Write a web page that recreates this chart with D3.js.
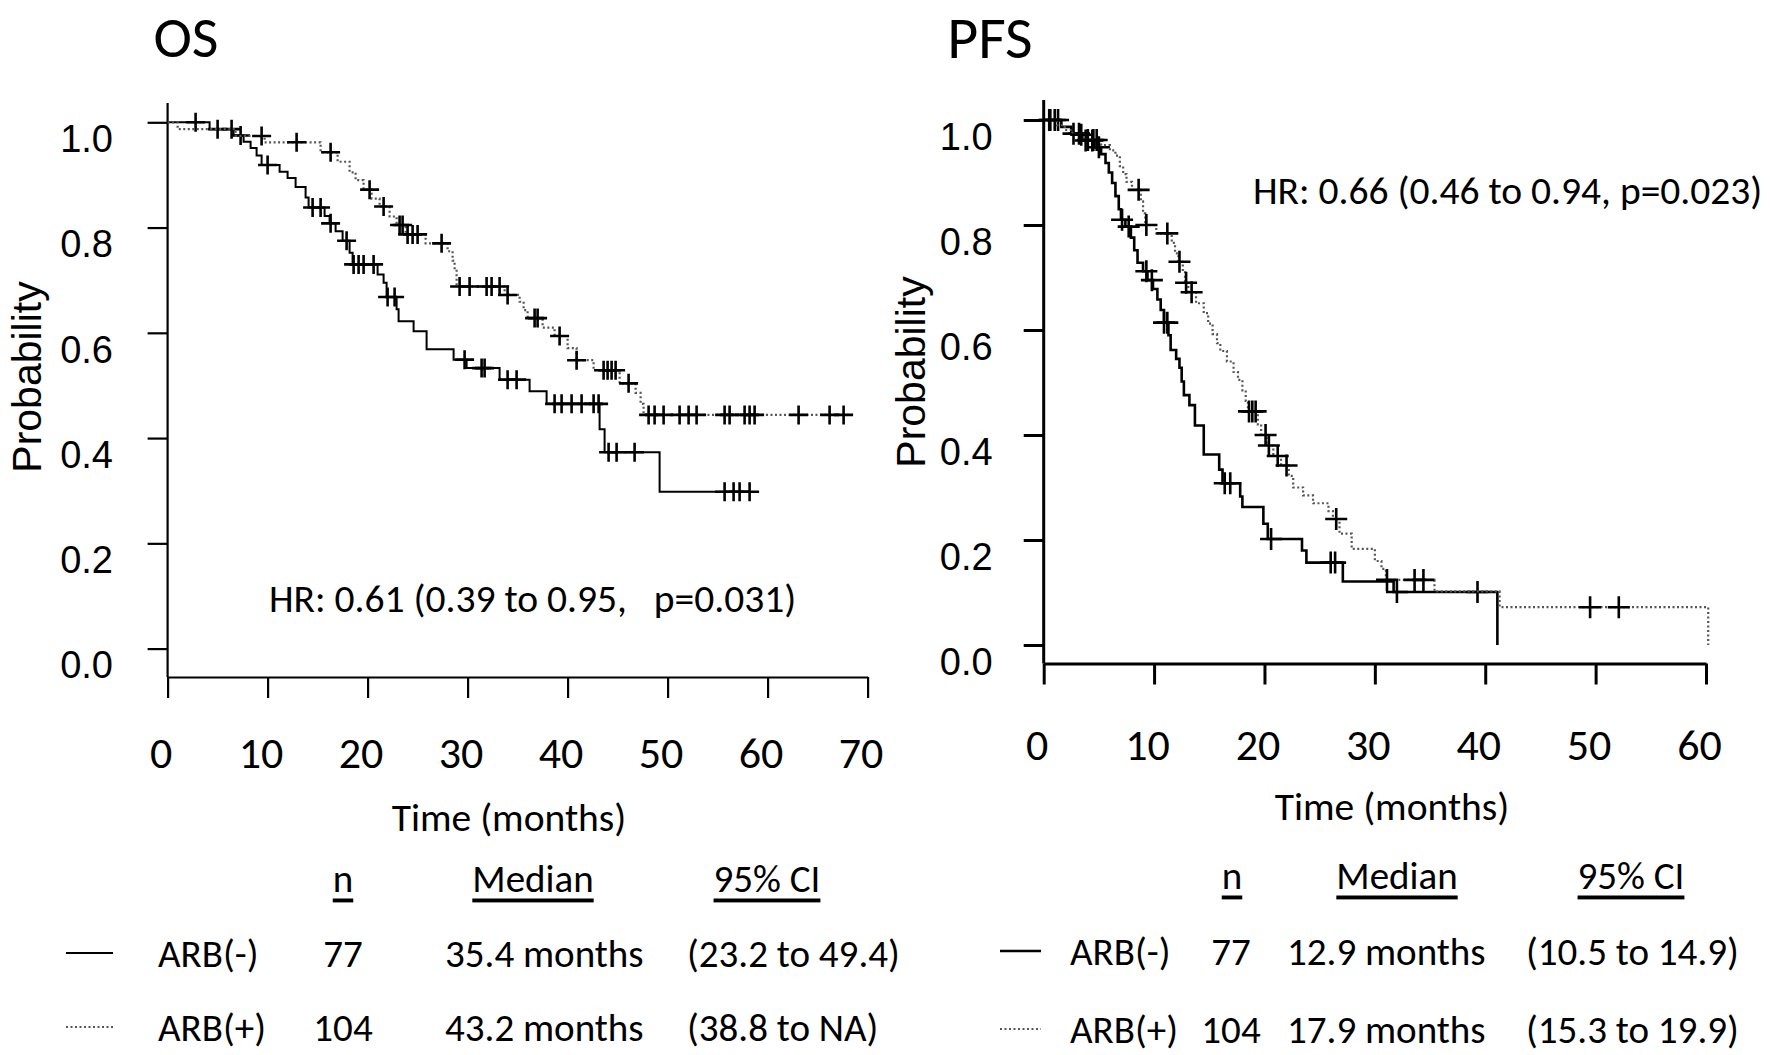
<!DOCTYPE html>
<html>
<head>
<meta charset="utf-8">
<title>OS and PFS by ARB use</title>
<script src="https://d3js.org/d3.v7.min.js"></script>
<style>
  body { margin: 0; background: #fff; }
  .cal { font-family: Carlito, Lato, "Open Sans", sans-serif; fill: #000; }
  .ari { font-family: "Liberation Sans", Arial, sans-serif; fill: #000; }
</style>
</head>
<body>
<svg id="km" width="1772" height="1055"></svg>
<script>
// ---- data ----
const yTicks = [0, 0.2, 0.4, 0.6, 0.8, 1.0];
const osXTicks = [0, 10, 20, 30, 40, 50, 60, 70];
const pfsXTicks = [0, 10, 20, 30, 40, 50, 60];

// [time (months), survival after the drop]
const osNegSteps = [[4.2, 0.987], [6.6, 0.975], [7.6, 0.963], [8.3, 0.951], [8.9, 0.937], [9.4, 0.919],
  [11.2, 0.906], [12.0, 0.894], [12.8, 0.877], [13.8, 0.857], [14.1, 0.838], [15.7, 0.822], [16.2, 0.808],
  [16.8, 0.793], [17.5, 0.775], [18.2, 0.752], [18.5, 0.73], [21.0, 0.711], [21.6, 0.695], [21.9, 0.668],
  [22.9, 0.645], [23.1, 0.622], [24.6, 0.603], [25.9, 0.569], [28.6, 0.549], [29.9, 0.533], [33.2, 0.511],
  [36.2, 0.489], [37.9, 0.465], [43.2, 0.417], [43.7, 0.373], [49.2, 0.298]];
const osNegEnd = 58.2;
const osNegCensor = [2.8, 5.0, 6.4, 7.3, 10.0, 14.5, 15.3, 16.3, 17.9, 18.6, 19.1, 19.6, 20.6, 22.0, 22.7,
  29.7, 31.4, 31.7, 34.0, 34.9, 38.7, 39.4, 40.4, 41.4, 42.6, 43.1, 44.1, 44.9, 46.7, 55.7, 56.6, 57.2, 58.2];

const osPosSteps = [[1.0, 0.987], [6.8, 0.974], [9.7, 0.962], [15.3, 0.943], [17.0, 0.925], [18.2, 0.905],
  [18.8, 0.89], [19.6, 0.872], [20.4, 0.855], [21.2, 0.84], [22.2, 0.821], [22.9, 0.805], [23.8, 0.787],
  [25.8, 0.77], [28.0, 0.755], [28.5, 0.737], [28.7, 0.72], [28.9, 0.688], [33.7, 0.672], [35.2, 0.659],
  [35.6, 0.643], [36.0, 0.628], [37.5, 0.61], [38.7, 0.594], [40.0, 0.571], [40.9, 0.548], [42.6, 0.529],
  [45.2, 0.504], [46.8, 0.486], [47.3, 0.465], [47.6, 0.444]];
const osPosEnd = 68.5;
const osPosCensor = [9.4, 12.9, 16.3, 20.2, 21.6, 23.2, 23.5, 24.0, 24.5, 25.0, 27.4, 29.2, 30.2, 31.9, 32.4,
  33.2, 34.0, 36.7, 37.0, 39.2, 40.9, 43.6, 44.0, 44.4, 44.8, 46.1, 48.1, 48.7, 49.6, 51.2, 52.1, 52.9,
  55.7, 56.2, 57.7, 58.2, 58.7, 63.1, 66.2, 67.6];

const pfsNegSteps = [[1.6, 0.987], [2.5, 0.974], [3.5, 0.961], [4.6, 0.948], [5.2, 0.935], [5.6, 0.918],
  [5.9, 0.9], [6.2, 0.88], [6.5, 0.855], [6.8, 0.83], [7.0, 0.81], [7.4, 0.797], [7.9, 0.776], [8.2, 0.752],
  [8.5, 0.728], [9.0, 0.712], [9.4, 0.695], [9.9, 0.678], [10.3, 0.658], [10.6, 0.638], [10.9, 0.614],
  [11.3, 0.59], [11.5, 0.562], [12.0, 0.545], [12.3, 0.528], [12.5, 0.502], [12.7, 0.476], [13.2, 0.457],
  [13.7, 0.418], [14.5, 0.363], [15.9, 0.334], [16.2, 0.308], [17.8, 0.283], [18.0, 0.263], [19.9, 0.231],
  [20.3, 0.202], [23.4, 0.18], [23.8, 0.157], [27.1, 0.121], [31.7, 0.101], [41.1, 0]];
const pfsNegCensor = [0.6, 1.3, 2.7, 3.2, 3.8, 4.4, 5.0, 7.1, 7.7, 9.3, 9.8, 10.9, 11.2, 16.4, 16.9, 20.6,
  26.0, 26.4, 32.0, 39.3];

const pfsPosSteps = [[1.2, 0.99], [1.9, 0.981], [2.6, 0.972], [3.6, 0.962], [5.2, 0.952], [6.0, 0.942],
  [6.5, 0.932], [6.9, 0.912], [7.2, 0.897], [7.5, 0.882], [8.0, 0.867], [8.8, 0.845], [9.0, 0.822],
  [9.2, 0.8], [10.2, 0.784], [11.6, 0.766], [11.9, 0.746], [12.2, 0.73], [12.6, 0.71], [12.8, 0.69],
  [13.1, 0.672], [13.8, 0.651], [14.5, 0.632], [14.9, 0.612], [15.3, 0.592], [15.7, 0.575], [16.0, 0.56],
  [16.6, 0.54], [17.2, 0.52], [17.6, 0.505], [18.0, 0.485], [18.3, 0.465], [18.5, 0.445], [19.4, 0.42],
  [19.7, 0.4], [20.2, 0.38], [20.8, 0.36], [21.5, 0.342], [22.2, 0.322], [22.6, 0.3], [23.5, 0.285],
  [24.4, 0.27], [25.8, 0.255], [26.2, 0.24], [26.8, 0.212], [27.9, 0.183], [30.0, 0.16], [30.6, 0.145],
  [31.0, 0.124], [35.4, 0.102], [41.3, 0.072], [60.2, 0]];
const pfsPosCensor = [0.5, 1.0, 3.4, 4.0, 4.5, 4.8, 8.6, 9.3, 11.2, 12.3, 12.9, 13.4, 18.6, 18.9, 19.2,
  20.1, 20.4, 21.2, 22.0, 26.5, 31.1, 33.6, 34.4, 49.5, 52.1];

const tableHead = ["n", "Median", "95% CI"];
const osRows = [["ARB(-)", "77", "35.4 months", "(23.2 to 49.4)"],
                ["ARB(+)", "104", "43.2 months", "(38.8 to NA)"]];
const pfsRows = [["ARB(-)", "77", "12.9 months", "(10.5 to 14.9)"],
                 ["ARB(+)", "104", "17.9 months", "(15.3 to 19.9)"]];

// ---- drawing ----
const svg = d3.select("#km");
svg.append("rect").attr("width", 1772).attr("height", 1055).attr("fill", "#fff");

function survAt(steps, t) {
  let s = 1;
  for (const [tt, v] of steps) if (tt <= t) s = v;
  return s;
}

function panel(p) {
  const g = svg.append("g");
  const x = d3.scaleLinear().domain(p.xDomain).range(p.xRange);
  const y = d3.scaleLinear().domain([0, 1]).range(p.yRange);

  // y axis
  const ya = g.append("g").attr("transform", `translate(${p.xRange[0]},0)`)
    .call(d3.axisLeft(y).tickValues(yTicks).tickSize(20).tickSizeOuter(0)
      .tickPadding(p.yPad).tickFormat(d3.format(".1f")));
  ya.select(".domain").remove();
  ya.selectAll("line").attr("stroke-width", p.axisW);
  ya.selectAll("text").attr("class", "ari").attr("font-size", 38).attr("dy", "0.35em").attr("y", 16);
  g.append("line").attr("x1", p.xRange[0]).attr("x2", p.xRange[0])
    .attr("y1", p.yTop).attr("y2", p.xAxisY).attr("stroke", "#000").attr("stroke-width", p.axisW);

  // x axis
  const xa = g.append("g").attr("transform", `translate(0,${p.xAxisY})`)
    .call(d3.axisBottom(x).tickValues(p.xTicks).tickSize(21).tickSizeOuter(0));
  xa.select(".domain").attr("stroke-width", p.axisW);
  xa.selectAll("line").attr("stroke-width", p.axisW);
  xa.selectAll("text").attr("class", "cal").attr("font-size", 44)
    .attr("y", p.xLabOff).attr("dy", "0.35em").attr("dx", -7);

  // curves
  const line = d3.line().x(d => x(d[0])).y(d => y(d[1])).curve(d3.curveStepAfter);
  p.curves.forEach(c => {
    const pts = [[0, 1], ...c.steps];
    if (c.end != null) pts.push([c.end, c.steps[c.steps.length - 1][1]]);
    g.append("path").attr("d", line(pts)).attr("fill", "none")
      .attr("stroke", c.dotted ? "#555" : "#000")
      .attr("stroke-width", c.dotted ? 2.2 : p.lineW)
      .attr("stroke-dasharray", c.dotted ? "2,2.5" : null);
    g.append("g").selectAll("path").data(c.censor).join("path")
      .attr("d", t => {
        const cx = x(t), cy = y(survAt(c.steps, t));
        return `M${cx - p.cross},${cy}H${cx + p.cross}M${cx},${cy - p.cross}V${cy + p.cross}`;
      })
      .attr("stroke", "#000").attr("stroke-width", 2.6).attr("fill", "none");
  });

  // labels
  g.append("text").attr("class", "cal").attr("font-size", p.title[2]).attr("text-anchor", "middle")
    .attr("x", p.title[1]).attr("y", 37).attr("dominant-baseline", "central").text(p.title[0]);
  g.append("text").attr("class", "ari").attr("font-size", 41).attr("text-anchor", "middle")
    .attr("transform", `translate(${p.yLab[0]},${p.yLab[1]}) rotate(-90)`)
    .attr("dominant-baseline", "central").text("Probability");
  g.append("text").attr("class", "cal").attr("font-size", 39.5).attr("text-anchor", "middle")
    .attr("x", p.xLab[0]).attr("y", p.xLab[1]).attr("dominant-baseline", "central").text("Time (months)");
  g.append("text").attr("class", "cal").attr("font-size", 39.5).attr("xml:space", "preserve")
    .style("white-space", "pre")
    .attr("x", p.hr[1]).attr("y", p.hr[2]).attr("dominant-baseline", "central").text(p.hr[0]);

  // table
  const t = p.table;
  tableHead.forEach((h, i) => {
    g.append("text").attr("class", "cal").attr("font-size", 39).attr("text-anchor", "middle")
      .attr("x", t.head[i]).attr("y", t.headY).attr("dominant-baseline", "central")
      .style("text-decoration", "underline").text(h);
  });
  t.rows.forEach((r, i) => {
    const ry = t.rowY[i];
    g.append("line").attr("x1", t.sample[0]).attr("x2", t.sample[1]).attr("y1", ry).attr("y2", ry)
      .attr("stroke", i ? "#555" : "#000").attr("stroke-width", i ? 2.2 : p.lineW)
      .attr("stroke-dasharray", i ? "2,2.5" : null);
    g.append("text").attr("class", "cal").attr("font-size", 39).attr("x", t.name).attr("y", ry)
      .attr("dominant-baseline", "central").text(r[0]);
    g.append("text").attr("class", "cal").attr("font-size", 39).attr("x", t.n).attr("y", ry)
      .attr("text-anchor", "middle").attr("dominant-baseline", "central").text(r[1]);
    g.append("text").attr("class", "cal").attr("font-size", 39).attr("x", t.med).attr("y", ry)
      .attr("dominant-baseline", "central").text(r[2]);
    g.append("text").attr("class", "cal").attr("font-size", 39).attr("x", t.ci).attr("y", ry)
      .attr("dominant-baseline", "central").text(r[3]);
  });
}

panel({
  xDomain: [0, 70], xRange: [167.6, 867.6], yRange: [648.6, 122.3],
  xTicks: osXTicks, yTop: 103, xAxisY: 677, yPad: 34.6, xLabOff: 76,
  axisW: 2.2, lineW: 2, cross: 9.5,
  title: ["OS", 186, 58], yLab: [27, 377], xLab: [509, 817],
  hr: ["HR: 0.61 (0.39 to 0.95,   p=0.031)", 269, 598],
  curves: [
    { steps: osNegSteps, end: osNegEnd, censor: osNegCensor, dotted: false },
    { steps: osPosSteps, end: osPosEnd, censor: osPosCensor, dotted: true }
  ],
  table: { head: [343, 533, 767], headY: 878, rowY: [953, 1027], sample: [66, 113],
           name: 158, n: 343, med: 445, ci: 687, rows: osRows }
});

panel({
  xDomain: [0, 60], xRange: [1043.7, 1706], yRange: [645, 120],
  xTicks: pfsXTicks, yTop: 100, xAxisY: 663.5, yPad: 31, xLabOff: 81,
  axisW: 3, lineW: 2.6, cross: 11,
  title: ["PFS", 990, 60], yLab: [911, 372], xLab: [1392, 806],
  hr: ["HR: 0.66 (0.46 to 0.94, p=0.023)", 1253, 190],
  curves: [
    { steps: pfsNegSteps, end: null, censor: pfsNegCensor, dotted: false },
    { steps: pfsPosSteps, end: null, censor: pfsPosCensor, dotted: true }
  ],
  table: { head: [1232, 1397, 1631], headY: 875, rowY: [951, 1029], sample: [1000, 1041],
           name: 1070, n: 1231, med: 1287, ci: 1526, rows: pfsRows }
});
</script>
</body>
</html>
